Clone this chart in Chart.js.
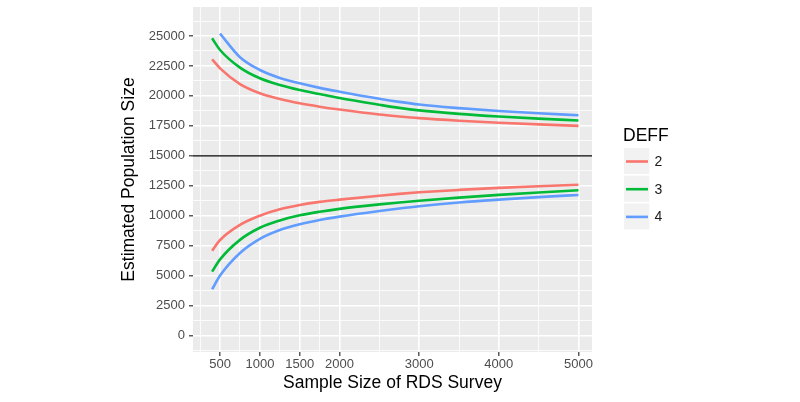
<!DOCTYPE html>
<html>
<head>
<meta charset="utf-8">
<script src="https://cdn.jsdelivr.net/npm/chart.js@4.4.1/dist/chart.umd.min.js"></script>
<style>
  html, body { margin: 0; padding: 0; background: #fff; }
  canvas { display: block; }
</style>
</head>
<body>
<canvas id="popChart" width="800" height="402"></canvas>
<script>
const sampleSizes = [400, 500, 750, 1000, 1250, 1500, 1750, 2000, 2500, 2750, 3000, 3500, 4000, 4500, 5000];

// upper curves
const upperDeff2 = [23055, 22300, 20990, 20220, 19740, 19380, 19100, 18860, 18440, 18280, 18140, 17930, 17760, 17620, 17500];
const upperDeff3 = [24808, 23830, 22360, 21470, 20910, 20490, 20150, 19820, 19260, 19000, 18790, 18500, 18280, 18100, 17950];
const upperDeff4 = [null, 25200, 23230, 22160, 21500, 21050, 20670, 20350, 19760, 19500, 19280, 18980, 18740, 18550, 18380];

// lower curves
const lowerDeff2 = [7080, 7970, 9230, 10000, 10530, 10890, 11150, 11340, 11670, 11820, 11950, 12150, 12320, 12460, 12580];
const lowerDeff3 = [5330, 6350, 7980, 8990, 9600, 10030, 10330, 10570, 10940, 11100, 11250, 11510, 11740, 11940, 12120];
const lowerDeff4 = [3860, 5000, 6880, 8060, 8800, 9280, 9640, 9920, 10390, 10600, 10790, 11100, 11340, 11550, 11730];

const deffLevels = ['2', '3', '4'];
const deffColors = ['#F8766D', '#00BA38', '#619CFF'];
const referenceSize = 15000;

const xRange = [160, 5170];
const yRange = [-1380, 27420];
const xMajorTicks = [500, 1000, 1500, 2000, 3000, 4000, 5000];
const xMinorTicks = [250, 750, 1250, 1750, 2500, 3500, 4500];
const yMajorTicks = [0, 2500, 5000, 7500, 10000, 12500, 15000, 17500, 20000, 22500, 25000];
const yMinorTicks = [-1250, 1250, 3750, 6250, 8750, 11250, 13750, 16250, 18750, 21250, 23750, 26250];

const FONT = '"Liberation Sans", Arial, sans-serif';

function pts(values) {
  return sampleSizes.map((n, i) => ({ x: n, y: values[i] }));
}

function curve(values, i) {
  return {
    label: deffLevels[i],
    data: pts(values),
    borderColor: deffColors[i],
    borderWidth: 2.6,
    pointRadius: 0,
    cubicInterpolationMode: 'monotone',
    fill: false
  };
}

function setTicks(major, minor) {
  return function (scale) {
    scale.ticks = major.concat(minor).sort((a, b) => a - b).map(v => ({ value: v }));
  };
}

function gridOpts(major) {
  return {
    color: '#FFFFFF',
    lineWidth: c => major.includes(c.tick && c.tick.value) ? 1.6 : 0.8,
    tickColor: c => major.includes(c.tick && c.tick.value) ? '#333333' : 'rgba(0,0,0,0)',
    tickWidth: 1.2,
    tickLength: 4
  };
}

const panelBg = {
  id: 'panelBg',
  beforeDraw(chart) {
    const a = chart.chartArea;
    const ctx = chart.ctx;
    ctx.save();
    ctx.fillStyle = '#EBEBEB';
    ctx.fillRect(a.left, a.top, a.right - a.left, a.bottom - a.top);
    ctx.restore();
  }
};

const deffLegend = {
  id: 'deffLegend',
  afterDraw(chart) {
    const ctx = chart.ctx;
    ctx.save();
    ctx.fillStyle = '#000';
    ctx.font = '17.5px ' + FONT;
    ctx.textBaseline = 'alphabetic';
    ctx.fillText('DEFF', 623, 141);
    deffLevels.forEach((lab, i) => {
      const y0 = 148 + i * 27.7;
      ctx.fillStyle = '#F2F2F2';
      ctx.fillRect(624, y0, 25.3, 26);
      ctx.strokeStyle = deffColors[i];
      ctx.lineWidth = 2.6;
      ctx.beginPath();
      ctx.moveTo(626, y0 + 13.5);
      ctx.lineTo(648, y0 + 13.5);
      ctx.stroke();
      ctx.fillStyle = '#1A1A1A';
      ctx.font = '14px ' + FONT;
      ctx.textBaseline = 'middle';
      ctx.fillText(lab, 654.5, y0 + 14);
    });
    ctx.restore();
  }
};

new Chart(document.getElementById('popChart'), {
  type: 'line',
  data: {
    datasets: [
      curve(upperDeff2, 0), curve(upperDeff3, 1), curve(upperDeff4, 2),
      curve(lowerDeff2, 0), curve(lowerDeff3, 1), curve(lowerDeff4, 2),
      {
        label: 'ref',
        data: [{ x: xRange[0], y: referenceSize }, { x: xRange[1], y: referenceSize }],
        borderColor: '#000000',
        borderWidth: 1.3,
        pointRadius: 0
      }
    ]
  },
  options: {
    responsive: false,
    animation: false,
    layout: { padding: { left: 110, right: 208, top: 7, bottom: 0 } },
    plugins: { legend: { display: false }, tooltip: { enabled: false } },
    scales: {
      x: {
        type: 'linear',
        min: xRange[0],
        max: xRange[1],
        afterBuildTicks: setTicks(xMajorTicks, xMinorTicks),
        afterFit(scale) { scale.height = 50; scale.paddingLeft = 0; scale.paddingRight = 0; },
        grid: gridOpts(xMajorTicks),
        border: { display: false },
        ticks: {
          autoSkip: false,
          maxRotation: 0,
          padding: 1,
          color: '#4D4D4D',
          font: { family: FONT, size: 13 },
          callback: v => xMajorTicks.includes(v) ? String(v) : ''
        },
        title: {
          display: true,
          text: 'Sample Size of RDS Survey',
          color: '#000',
          font: { family: FONT, size: 17.5 },
          padding: { top: 0, bottom: 8 }
        }
      },
      y: {
        type: 'linear',
        min: yRange[0],
        max: yRange[1],
        afterBuildTicks: setTicks(yMajorTicks, yMinorTicks),
        afterFit(scale) { scale.width = 83; scale.paddingTop = 0; scale.paddingBottom = 0; },
        grid: gridOpts(yMajorTicks),
        border: { display: false },
        ticks: {
          autoSkip: false,
          padding: 4,
          color: '#4D4D4D',
          font: { family: FONT, size: 13 },
          callback: v => yMajorTicks.includes(v) ? String(v) : ''
        },
        title: {
          display: true,
          text: 'Estimated Population Size',
          color: '#000',
          font: { family: FONT, size: 17.5 },
          padding: { top: 9, bottom: 0 }
        }
      }
    }
  },
  plugins: [panelBg, deffLegend]
});
</script>
</body>
</html>
